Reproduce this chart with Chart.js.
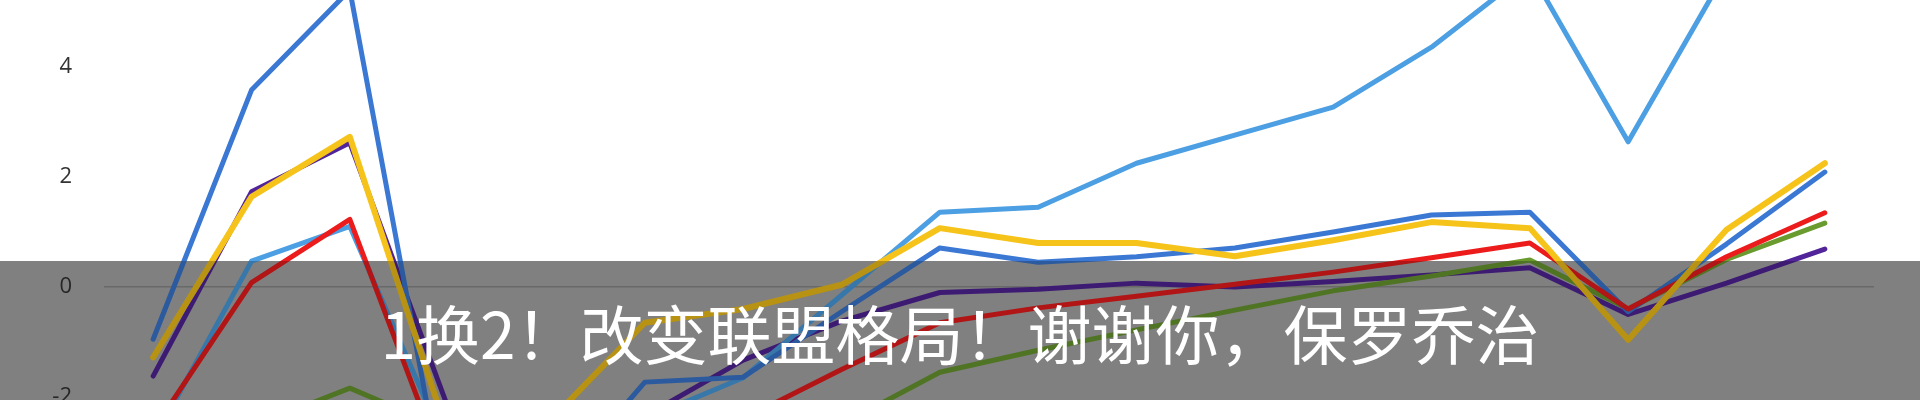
<!DOCTYPE html>
<html>
<head>
<meta charset="utf-8">
<script src="https://cdn.jsdelivr.net/npm/chart.js@4"></script>
<style>
  html, body { margin: 0; padding: 0; background: #fff; }
  #wrap { position: relative; width: 1920px; height: 400px; overflow: hidden; }
  #caption {
    position: absolute; left: 0; top: 261px; width: 1920px; height: 139px;
    background: rgba(0, 0, 0, 0.25);
    display: flex; align-items: center; justify-content: center;
    color: #fff; font-family: "Noto Sans CJK SC", "Noto Sans", sans-serif;
    font-size: 64px; line-height: 1; white-space: nowrap;
  }
</style>
</head>
<body>
<div id="wrap">
  <canvas id="chart" width="1920" height="400"></canvas>
  <div id="caption">1换2！改变联盟格局！谢谢你，保罗乔治</div>
</div>
<script>
// categories (games), values
const games = ['1','2','3','4','5','6','7','8','9','10','11','12','13','14','15','16','17','18'];
const yTicks = [-2, 0, 2, 4];

const yellowVals    = [-1.28, 1.64, 2.73, -2.7, -2.5, -0.65, -0.4, 0.04, 1.07, 0.8, 0.8, 0.56, 0.85, 1.18, 1.07, -0.96, 1.04, 2.25];
const redVals       = [-2.6, 0.08, 1.23, -3.5, -3.2, -2.9, -2.4, -1.5, -0.65, -0.38, -0.17, 0.05, 0.27, 0.53, 0.8, -0.4, 0.55, 1.35];
const blueVals      = [-0.95, 3.58, 5.4, -4.2, -3.8, -1.73, -1.64, -0.45, 0.71, 0.45, 0.55, 0.71, 1.0, 1.31, 1.36, -0.45, 0.78, 2.09];
const lightBlueVals = [-2.8, 0.47, 1.1, -3.0, -3.2, -2.4, -1.65, -0.15, 1.36, 1.45, 2.25, 2.76, 3.27, 4.36, 5.75, 2.64, 5.75, 6.0];
const greenVals     = [-3.0, -2.54, -1.84, -2.6, -3.0, -3.0, -2.9, -2.5, -1.55, -1.15, -0.78, -0.42, -0.07, 0.2, 0.49, -0.4, 0.5, 1.16];
const purpleVals    = [-1.62, 1.73, 2.62, -2.2, -2.8, -2.35, -1.33, -0.62, -0.1, -0.04, 0.07, 0.0, 0.1, 0.22, 0.35, -0.5, 0.07, 0.69];

function line(data, color, width) {
    return {
        data: data, borderColor: color, borderWidth: width || 5,
        pointRadius: 0, tension: 0, fill: false,
        borderCapStyle: 'round', borderJoinStyle: 'round'
    };
}

// grey caption band painted under the grid and lines, the div on top darkens it a bit more
const bandPlugin = {
    id: 'band',
    beforeDraw(chart) {
        const c = chart.ctx;
        c.save();
        c.fillStyle = '#ababab';
        c.fillRect(0, 261, chart.width, chart.height - 261);
        c.restore();
    }
};

new Chart(document.getElementById('chart').getContext('2d'), {
    type: 'line',
    data: {
        labels: games,
        datasets: [
            line(yellowVals, '#f6c31a', 6),
            line(redVals, '#ec1c1c'),
            line(blueVals, '#3a78d3'),
            line(lightBlueVals, '#4b9fe2'),
            line(greenVals, '#6a9b2f'),
            line(purpleVals, '#52249a')
        ]
    },
    options: {
        responsive: false,
        animation: false,
        layout: { padding: { left: 0, top: 0, bottom: 0, right: 46 } },
        plugins: { legend: { display: false }, tooltip: { enabled: false } },
        scales: {
            x: { display: false, offset: true },
            y: {
                min: -2.055, max: 5.218,
                afterBuildTicks: s => { s.ticks = yTicks.map(v => ({ value: v })); },
                afterFit: s => { s.width = 104; s.paddingTop = 0; s.paddingBottom = 0; },
                border: { display: false },
                grid: {
                    drawTicks: false,
                    color: c => c.tick && c.tick.value === 0 ? '#8c8c8c' : 'rgba(0,0,0,0)',
                    lineWidth: 1.5
                },
                ticks: { padding: 32, color: '#333', font: { family: 'Open Sans', size: 22 } }
            }
        }
    },
    plugins: [bandPlugin]
});
</script>
</body>
</html>
